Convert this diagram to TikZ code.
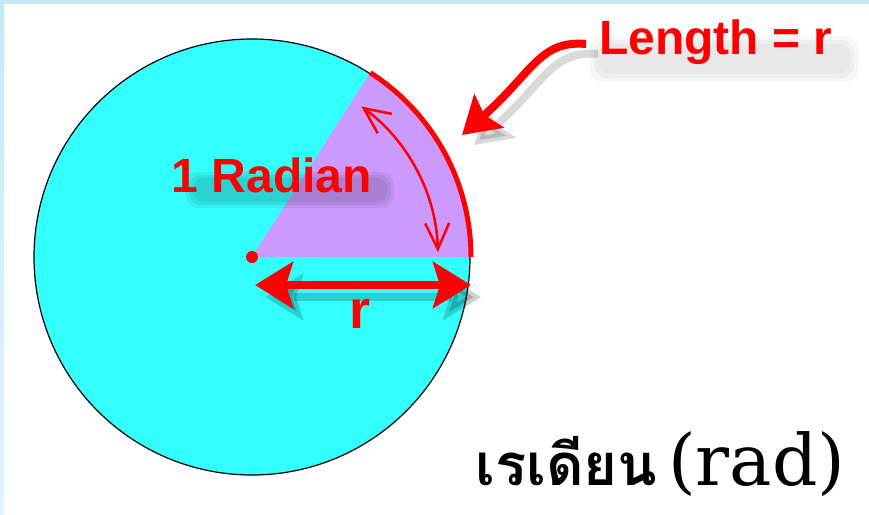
\documentclass[tikz,border=0pt]{standalone}
\usepackage{fontspec}
\setsansfont{Liberation Sans}
\newfontfamily\thaifont[Script=Thai]{Loma}
\newfontfamily\radfont{DejaVu Serif}
\usetikzlibrary{arrows.meta}

\definecolor{skyline}{RGB}{195,233,249}
\definecolor{skylight}{RGB}{226,245,253}
\definecolor{aqua}{RGB}{51,255,255}
\definecolor{lilac}{RGB}{204,153,255}

\begin{document}
\begin{tikzpicture}[x=1pt,y=1pt,
  redtext/.style={text=red,inner sep=0pt,font=\sffamily\bfseries\fontsize{48}{52}\selectfont},
  shadowblob/.style={fill=black,rounded corners=12pt},
  bigtips/.style={{Stealth[length=38pt,width=46pt,inset=7pt]}-{Stealth[length=38pt,width=46pt,inset=7pt]}},
  lentip/.style={-{Stealth[length=36pt,width=44pt,inset=6pt]}},
  bartips/.style={{Straight Barb[length=26pt,width=24pt]}-{Straight Barb[length=26pt,width=24pt]}}]

\useasboundingbox (0,0) rectangle (869,514);

% frame
\fill[skyline] (0,510) rectangle (869,514);
\shade[top color=skyline,bottom color=skylight] (0,0) rectangle (4,510);

\coordinate (O) at (252,257);

% circle and sector of one radian
\fill[aqua] (O) circle(218);
\fill[lilac] (O) -- ++(0:218) arc[start angle=0,end angle=57.3,radius=218] -- cycle;
\draw[line width=1.2pt] (O) circle(218);
\draw[red,line width=5pt] (O) ++(0:219) arc[start angle=0,end angle=57.3,radius=219];

\draw[red,line width=2.5pt,bartips] (O) ++(1.5:186) arc[start angle=1.5,end angle=54,radius=186];

\fill[red] (O) circle(6);

% radius arrow
\coordinate (rL) at (255,229);
\coordinate (rR) at (471,229);
\draw[black,opacity=0.18,line width=8pt,bigtips] ([shift={(10,-12)}]rL) -- ([shift={(10,-12)}]rR);
\draw[red,line width=8pt,bigtips] (rL) -- (rR);
\node[redtext,font=\sffamily\bfseries\fontsize{54}{58}\selectfont,anchor=base] (rlabel) at (360,185) {r};

% 1 Radian
\foreach \g in {0,3,6}
  \fill[shadowblob,opacity=0.06] (192-\g,336+\g) rectangle (388+\g,312-\g);
\node[redtext,anchor=base] (radian) at (272,321) {1 Radian};

% Length = r
\foreach \g in {0,4,8}
  \fill[shadowblob,opacity=0.03] (598-\g,470+\g) rectangle (850+\g,440-\g);
\node[redtext,anchor=base west] (length) at (599,459) {Length = r};
\coordinate (lenTail) at (586,470);
\coordinate (lenTip) at (462,379);
\draw[black,opacity=0.15,line width=8pt,lentip] ([shift={(12,-10)}]lenTail) .. controls (552,464) and (545,432) .. ([shift={(12,-10)}]lenTip);
\draw[red,line width=8pt,lentip] (lenTail) .. controls (540,474) and (533,442) .. (lenTip);

% unit name
\node[anchor=base west,inner sep=0pt,font=\thaifont\bfseries\fontsize{58}{64}\selectfont] (thai) at (475,29) {เรเดียน};
\node[anchor=base west,inner sep=0pt,font=\radfont\fontsize{71}{78}\selectfont] (rad) at (668,29) {(rad)};

\end{tikzpicture}
\end{document}
